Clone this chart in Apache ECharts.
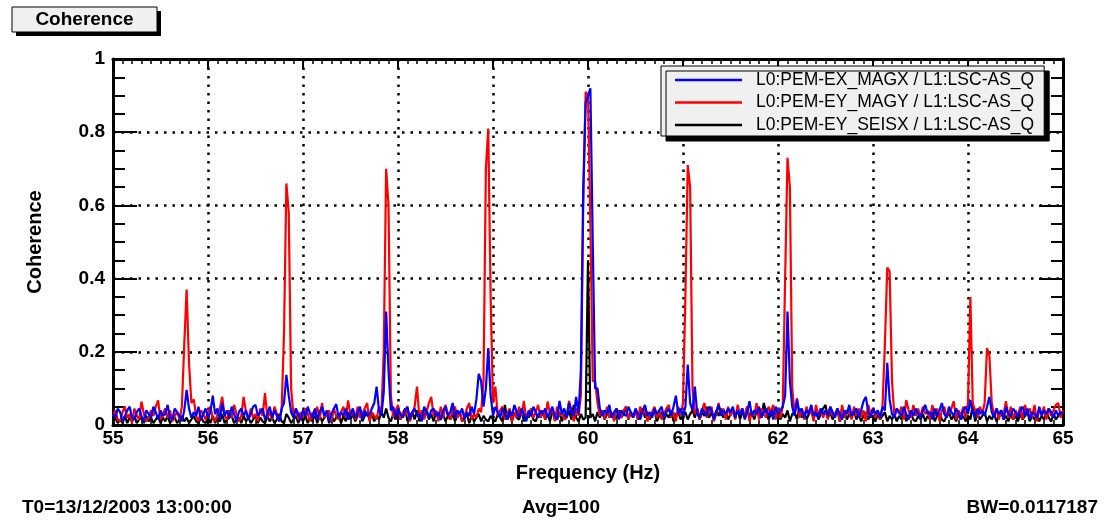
<!DOCTYPE html>
<html><head><meta charset="utf-8">
<script src="https://cdn.jsdelivr.net/npm/echarts@6/dist/echarts.min.js"></script>
<style>html,body{margin:0;padding:0;background:#fff}#c{width:1104px;height:521px}</style>
</head><body><div id="c"></div>
<script>
// frequency grid (Hz): uniform bins
const F_START = 55, F_STEP = 0.025;
const xTickLabels = ['55','56','57','58','59','60','61','62','63','64','65'];
const yTickLabels = ['0','0.2','0.4','0.6','0.8','1'];
const seriesNames = ['L0:PEM-EX_MAGX / L1:LSC-AS_Q','L0:PEM-EY_MAGY / L1:LSC-AS_Q','L0:PEM-EY_SEISX / L1:LSC-AS_Q'];
const footLeft = 'T0=13/12/2003 13:00:00', footMid = 'Avg=100', footRight = 'BW=0.0117187';

// coherence values, one per frequency bin (55.000 ... 65.000)
const magy = [
0.025,0.04,0.015,0.01,0.035,0.05,0.02,0.03,0.005,0.045,0.025,0.015,0.064,0.03,0.01,0.02,0.04,0.025,0.05,0.067,
0.015,0.03,0.045,0.02,0.04,0.01,0.025,0.035,0.015,0.05,0.22,0.37,0.17,0.06,0.07,0.025,0.01,0.04,0.03,0.015,
0.035,0.05,0.02,0.01,0.03,0.045,0.077,0.025,0.015,0.04,0.02,0.055,0.03,0.01,0.025,0.077,0.035,0.015,0.045,0.02,
0.03,0.01,0.045,0.025,0.087,0.02,0.035,0.015,0.05,0.03,0.01,0.04,0.25,0.66,0.58,0.1,0.025,0.045,0.015,0.035,
0.02,0.045,0.03,0.01,0.035,0.025,0.05,0.015,0.06,0.02,0.03,0.04,0.01,0.045,0.025,0.015,0.035,0.05,0.02,0.067,
0.025,0.04,0.015,0.05,0.02,0.03,0.045,0.06,0.01,0.035,0.025,0.015,0.05,0.03,0.2,0.70,0.6,0.08,0.02,0.04,
0.055,0.015,0.035,0.025,0.045,0.01,0.03,0.05,0.105,0.02,0.04,0.015,0.035,0.06,0.077,0.025,0.04,0.01,0.05,0.02,
0.055,0.03,0.015,0.04,0.05,0.02,0.035,0.01,0.025,0.045,0.06,0.015,0.03,0.02,0.045,0.035,0.12,0.7,0.81,0.35,
0.06,0.105,0.025,0.04,0.05,0.015,0.03,0.045,0.01,0.035,0.02,0.05,0.025,0.066,0.015,0.03,0.045,0.02,0.035,0.055,
0.02,0.04,0.015,0.064,0.03,0.045,0.01,0.05,0.025,0.035,0.015,0.02,0.066,0.04,0.01,0.045,0.025,0.08,0.6,0.91,
0.9,0.55,0.12,0.12,0.06,0.025,0.04,0.015,0.05,0.02,0.035,0.01,0.045,0.03,0.02,0.04,0.05,0.015,0.035,0.025,
0.04,0.015,0.05,0.03,0.045,0.01,0.025,0.035,0.05,0.02,0.04,0.015,0.03,0.045,0.055,0.02,0.035,0.01,0.05,0.025,
0.06,0.35,0.71,0.65,0.1,0.03,0.045,0.015,0.04,0.06,0.02,0.035,0.05,0.01,0.03,0.06,0.025,0.045,0.015,0.05,
0.025,0.04,0.015,0.055,0.03,0.045,0.02,0.05,0.01,0.035,0.025,0.06,0.015,0.045,0.03,0.02,0.05,0.035,0.055,0.015,
0.045,0.02,0.05,0.4,0.73,0.65,0.1,0.03,0.073,0.02,0.045,0.015,0.05,0.03,0.04,0.01,0.055,0.025,0.045,0.02,
0.04,0.015,0.05,0.025,0.03,0.045,0.01,0.055,0.02,0.04,0.035,0.015,0.05,0.025,0.045,0.02,0.04,0.01,0.055,0.03,
0.045,0.02,0.04,0.015,0.05,0.22,0.43,0.42,0.12,0.025,0.045,0.03,0.05,0.015,0.068,0.04,0.02,0.055,0.025,0.045,
0.02,0.05,0.03,0.04,0.015,0.055,0.025,0.045,0.01,0.04,0.05,0.02,0.035,0.045,0.065,0.015,0.04,0.025,0.05,0.02,
0.06,0.35,0.06,0.04,0.02,0.05,0.03,0.06,0.21,0.19,0.06,0.025,0.045,0.015,0.04,0.03,0.065,0.02,0.05,0.015,
0.04,0.025,0.05,0.015,0.055,0.03,0.045,0.02,0.055,0.01,0.04,0.03,0.05,0.015,0.045,0.025,0.04,0.055,0.06,0.02,
0.04];

const magx = [
0.03,0.02,0.045,0.035,0.01,0.025,0.04,0.05,0.02,0.015,0.035,0.045,0.025,0.01,0.04,0.03,0.02,0.05,0.035,0.015,
0.04,0.025,0.03,0.055,0.02,0.015,0.045,0.035,0.025,0.01,0.04,0.096,0.045,0.02,0.035,0.025,0.05,0.015,0.03,0.045,
0.02,0.035,0.08,0.03,0.045,0.015,0.06,0.025,0.04,0.02,0.05,0.03,0.01,0.035,0.045,0.025,0.04,0.015,0.03,0.05,
0.055,0.025,0.035,0.045,0.015,0.03,0.05,0.02,0.04,0.025,0.01,0.045,0.06,0.137,0.08,0.035,0.02,0.045,0.03,0.015,
0.04,0.025,0.05,0.03,0.02,0.045,0.015,0.035,0.05,0.025,0.04,0.01,0.03,0.045,0.057,0.02,0.035,0.025,0.045,0.015,
0.03,0.045,0.02,0.035,0.05,0.015,0.04,0.025,0.03,0.045,0.06,0.105,0.04,0.025,0.09,0.31,0.15,0.04,0.05,0.02,
0.045,0.03,0.02,0.04,0.05,0.015,0.035,0.045,0.025,0.03,0.01,0.05,0.035,0.02,0.04,0.045,0.025,0.035,0.015,0.04,
0.05,0.025,0.035,0.06,0.02,0.04,0.03,0.045,0.015,0.035,0.025,0.05,0.03,0.07,0.14,0.12,0.05,0.1,0.21,0.08,
0.025,0.05,0.035,0.02,0.045,0.03,0.015,0.04,0.025,0.055,0.035,0.02,0.045,0.03,0.01,0.04,0.025,0.05,0.035,0.02,
0.04,0.03,0.045,0.02,0.035,0.05,0.025,0.015,0.066,0.03,0.045,0.02,0.06,0.035,0.025,0.077,0.03,0.15,0.65,0.88,
0.9,0.92,0.5,0.1,0.1,0.045,0.025,0.04,0.03,0.055,0.02,0.035,0.045,0.015,0.04,0.03,0.025,0.05,0.035,0.02,
0.045,0.03,0.015,0.04,0.055,0.025,0.035,0.02,0.045,0.03,0.04,0.05,0.02,0.035,0.045,0.025,0.05,0.08,0.03,0.045,
0.025,0.05,0.165,0.06,0.04,0.105,0.03,0.02,0.045,0.035,0.025,0.05,0.04,0.015,0.035,0.055,0.025,0.04,0.03,0.045,
0.035,0.05,0.02,0.04,0.03,0.045,0.015,0.035,0.065,0.025,0.04,0.03,0.05,0.02,0.035,0.045,0.025,0.04,0.015,0.05,
0.03,0.04,0.05,0.08,0.31,0.12,0.05,0.025,0.07,0.035,0.045,0.02,0.04,0.03,0.055,0.025,0.035,0.02,0.045,0.03,
0.04,0.025,0.05,0.035,0.02,0.045,0.03,0.015,0.04,0.03,0.055,0.025,0.035,0.045,0.02,0.04,0.065,0.077,0.035,0.02,
0.045,0.03,0.04,0.02,0.05,0.04,0.17,0.07,0.03,0.02,0.045,0.035,0.025,0.05,0.03,0.015,0.04,0.025,0.045,0.03,
0.02,0.04,0.055,0.03,0.035,0.015,0.045,0.025,0.04,0.06,0.03,0.02,0.05,0.035,0.025,0.045,0.03,0.015,0.04,0.05,
0.03,0.068,0.035,0.02,0.045,0.03,0.04,0.025,0.05,0.077,0.035,0.02,0.045,0.03,0.04,0.015,0.05,0.03,0.025,0.045,
0.035,0.02,0.04,0.05,0.025,0.045,0.015,0.035,0.03,0.02,0.05,0.025,0.04,0.03,0.045,0.035,0.02,0.04,0.025,0.035,
0.03];

const seisx = [
0.005,0.02,0.005,0.015,0.005,0.025,0.005,0.02,0.01,0.025,0.005,0.015,0.02,0.005,0.025,0.01,0.02,0.005,0.015,0.025,
0.005,0.02,0.01,0.025,0.005,0.015,0.02,0.005,0.015,0.025,0.01,0.02,0.005,0.015,0.025,0.01,0.005,0.02,0.01,0.005,
0.02,0.005,0.025,0.005,0.02,0.01,0.03,0.005,0.015,0.02,0.025,0.005,0.015,0.02,0.005,0.025,0.01,0.02,0.005,0.015,
0.025,0.005,0.02,0.01,0.005,0.025,0.01,0.02,0.005,0.015,0.03,0.01,0.005,0.03,0.02,0.005,0.015,0.025,0.005,0.02,
0.01,0.025,0.005,0.02,0.01,0.03,0.005,0.025,0.01,0.02,0.035,0.005,0.025,0.01,0.02,0.03,0.005,0.025,0.01,0.035,
0.015,0.03,0.01,0.025,0.04,0.01,0.025,0.035,0.015,0.03,0.01,0.025,0.015,0.035,0.02,0.045,0.02,0.01,0.03,0.015,
0.035,0.015,0.03,0.045,0.01,0.025,0.035,0.015,0.04,0.01,0.03,0.02,0.045,0.015,0.03,0.01,0.035,0.02,0.015,0.03,
0.01,0.025,0.015,0.03,0.01,0.025,0.035,0.01,0.02,0.03,0.005,0.025,0.01,0.02,0.03,0.01,0.025,0.015,0.01,0.025,
0.015,0.01,0.03,0.02,0.01,0.055,0.015,0.03,0.01,0.035,0.02,0.015,0.04,0.01,0.03,0.02,0.035,0.015,0.01,0.03,
0.02,0.035,0.015,0.03,0.01,0.04,0.02,0.015,0.035,0.01,0.03,0.02,0.04,0.015,0.055,0.02,0.01,0.03,0.015,0.02,
0.45,0.02,0.03,0.01,0.035,0.02,0.04,0.015,0.03,0.045,0.02,0.035,0.015,0.04,0.02,0.03,0.05,0.015,0.035,0.02,
0.04,0.015,0.03,0.045,0.02,0.035,0.015,0.03,0.04,0.01,0.025,0.035,0.015,0.03,0.02,0.04,0.01,0.03,0.035,0.015,
0.025,0.035,0.015,0.03,0.04,0.02,0.045,0.015,0.035,0.025,0.05,0.02,0.035,0.015,0.04,0.025,0.045,0.02,0.035,0.015,
0.03,0.04,0.02,0.045,0.015,0.035,0.025,0.05,0.02,0.035,0.015,0.04,0.025,0.02,0.06,0.035,0.015,0.03,0.04,0.02,
0.035,0.015,0.03,0.02,0.04,0.01,0.03,0.035,0.015,0.045,0.02,0.035,0.015,0.03,0.04,0.02,0.035,0.015,0.03,0.045,
0.055,0.02,0.035,0.015,0.03,0.04,0.01,0.025,0.035,0.015,0.03,0.02,0.04,0.015,0.03,0.01,0.025,0.035,0.015,0.03,
0.02,0.01,0.03,0.015,0.025,0.035,0.01,0.025,0.015,0.03,0.01,0.025,0.015,0.035,0.01,0.025,0.03,0.015,0.01,0.025,
0.015,0.03,0.01,0.025,0.015,0.035,0.01,0.025,0.03,0.015,0.01,0.025,0.035,0.015,0.025,0.01,0.03,0.015,0.025,0.01,
0.025,0.015,0.055,0.01,0.03,0.015,0.025,0.035,0.01,0.025,0.015,0.03,0.01,0.025,0.035,0.015,0.025,0.01,0.03,0.015,
0.025,0.01,0.03,0.015,0.025,0.035,0.01,0.025,0.015,0.03,0.01,0.025,0.015,0.035,0.02,0.01,0.03,0.015,0.025,0.035,
0.02];

[magy, magx, seisx].forEach(a => { if (a.length !== 401) throw new Error('length ' + a.length); });
const pairs = arr => arr.map((v, i) => [+(F_START + i * F_STEP).toFixed(4), v]);

const FONT = "'Liberation Sans', Arial, Helvetica, sans-serif";
const chart = echarts.init(document.getElementById('c'), null, {renderer: 'canvas'});
const xMin = +xTickLabels[0], xMax = +xTickLabels[xTickLabels.length - 1];
const yMin = +yTickLabels[0], yMax = +yTickLabels[yTickLabels.length - 1];

const axisBase = {
  axisLine: {show: true, onZero: false, lineStyle: {color: '#000', width: 3}},
};
chart.setOption({
  animation: false,
  backgroundColor: '#fff',
  grid: {left: 113, right: 41, top: 59, bottom: 96, containLabel: false},
  legend: {
    left: 661, top: 66, orient: 'vertical',
    data: [seriesNames[0], seriesNames[1], seriesNames[2]],
    icon: 'rect',
    itemWidth: 67, itemHeight: 2.5, itemGap: 4.5,
    padding: [5, 10, 2, 14],
    backgroundColor: '#f0f0f0', borderColor: '#000', borderWidth: 1,
    shadowColor: '#000', shadowBlur: 0, shadowOffsetX: 5, shadowOffsetY: 5,
    textStyle: {fontFamily: FONT, fontSize: 17.5, color: '#000', lineHeight: 18, padding: [0, 0, 0, 9]},
    selectedMode: false
  },
  xAxis: [
    Object.assign({}, axisBase, {
      type: 'value', min: xMin, max: xMax, interval: 1, position: 'bottom',
      name: 'Frequency (Hz)', nameLocation: 'middle', nameGap: 38,
      nameTextStyle: {fontFamily: FONT, fontSize: 20, fontWeight: 'bold', color: '#000'},
      axisTick: {show: true, inside: true, length: 10, lineStyle: {color: '#000', width: 2}},
      minorTick: {show: true, splitNumber: 10, length: 5, lineStyle: {color: '#000', width: 1.5}},
      axisLabel: {fontFamily: FONT, fontSize: 19, fontWeight: 'bold', color: '#000', margin: 4},
      splitLine: {show: true, lineStyle: {color: '#000', width: 2.5, type: [2.5, 6]}}
    }),
    Object.assign({}, axisBase, {
      type: 'value', min: xMin, max: xMax, interval: 1, position: 'top',
      axisTick: {show: true, inside: true, length: 10, lineStyle: {color: '#000', width: 2}},
      minorTick: {show: true, splitNumber: 10, length: 5, lineStyle: {color: '#000', width: 1.5}},
      axisLabel: {show: false}, splitLine: {show: false}
    })
  ],
  yAxis: [
    Object.assign({}, axisBase, {
      type: 'value', min: yMin, max: yMax, interval: 0.2, position: 'left',
      name: 'Coherence', nameLocation: 'middle', nameGap: 68,
      nameTextStyle: {fontFamily: FONT, fontSize: 20, fontWeight: 'bold', color: '#000'},
      axisTick: {show: true, inside: true, length: 24, lineStyle: {color: '#000', width: 2}},
      minorTick: {show: true, splitNumber: 4, length: 12, lineStyle: {color: '#000', width: 2}},
      axisLabel: {fontFamily: FONT, fontSize: 19, fontWeight: 'bold', color: '#000', margin: 8},
      splitLine: {show: true, lineStyle: {color: '#000', width: 2.5, type: [2.5, 6]}}
    }),
    Object.assign({}, axisBase, {
      type: 'value', min: yMin, max: yMax, interval: 0.2, position: 'right',
      axisTick: {show: true, inside: true, length: 24, lineStyle: {color: '#000', width: 2}},
      minorTick: {show: true, splitNumber: 4, length: 12, lineStyle: {color: '#000', width: 2}},
      axisLabel: {show: false}, splitLine: {show: false}
    })
  ],
  series: [
    {name: seriesNames[2], type: 'line', data: pairs(seisx), showSymbol: false, symbol: 'none',
     lineStyle: {color: '#000', width: 2.2}, itemStyle: {color: '#000'}, z: 2},
    {name: seriesNames[1], type: 'line', data: pairs(magy), showSymbol: false, symbol: 'none',
     lineStyle: {color: '#ff0000', width: 2.2}, itemStyle: {color: '#ff0000'}, z: 3},
    {name: seriesNames[0], type: 'line', data: pairs(magx), showSymbol: false, symbol: 'none',
     lineStyle: {color: '#0000ff', width: 2.2}, itemStyle: {color: '#0000ff'}, z: 4}
  ],
  graphic: [
    {type: 'rect', shape: {x: 16, y: 11, width: 145, height: 25}, style: {fill: '#000'}, z: 10},
    {type: 'rect', shape: {x: 12, y: 7, width: 145, height: 25}, style: {fill: '#f0f0f0', stroke: '#000', lineWidth: 1}, z: 11},
    {type: 'text', x: 84.5, y: 19.5, z: 12, style: {text: 'Coherence', font: "bold 19px " + FONT, fill: '#000', align: 'center', verticalAlign: 'middle'}},
    {type: 'text', x: 22, y: 508, z: 12, style: {text: footLeft, font: "bold 19px " + FONT, fill: '#000', align: 'left', verticalAlign: 'middle'}},
    {type: 'text', x: 561, y: 508, z: 12, style: {text: footMid, font: "bold 19px " + FONT, fill: '#000', align: 'center', verticalAlign: 'middle'}},
    {type: 'text', x: 1098, y: 508, z: 12, style: {text: footRight, font: "bold 19px " + FONT, fill: '#000', align: 'right', verticalAlign: 'middle'}}
  ]
});
</script>
</body></html>
